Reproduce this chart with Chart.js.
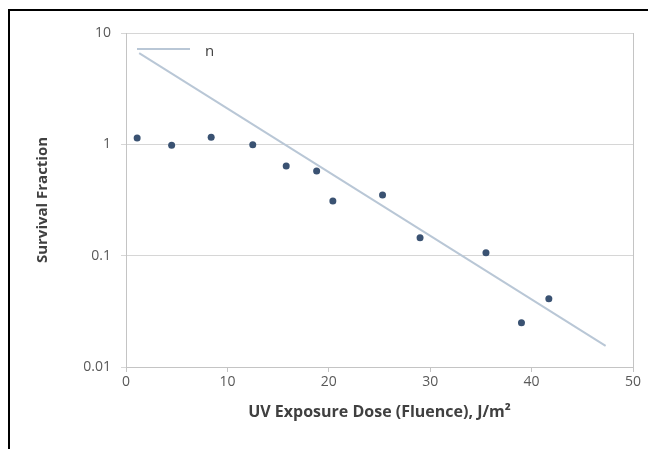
<!DOCTYPE html>
<html>
<head>
<meta charset="utf-8">
<script src="https://cdn.jsdelivr.net/npm/chart.js@4.4.1/dist/chart.umd.min.js"></script>
<style>
  html, body { margin: 0; padding: 0; background: #fff; }
  #frame {
    position: absolute; left: 8px; top: 9px;
    width: 640px; height: 440px;
    border-left: 2px solid #000; border-top: 2px solid #000;
  }
  #chart { display: block; }
</style>
</head>
<body>
<div id="frame">
  <canvas id="chart" width="638" height="438"></canvas>
</div>

<script>
  // measured survival points
  const doseValues = [1.1, 4.5, 8.4, 12.5, 15.8, 18.8, 20.4, 25.3, 29.0, 35.5, 39.0, 41.7];
  const survivalValues = [1.14, 0.98, 1.16, 0.99, 0.64, 0.575, 0.31, 0.35, 0.145, 0.106, 0.025, 0.041];

  // extrapolated line ("n")
  const fitDose = [1.3, 47.3];
  const fitSurvival = [6.6, 0.0155];

  const xTicks = [0, 10, 20, 30, 40, 50];
  const yTicks = [0.01, 0.1, 1, 10];
  const yTickLabels = ['0.01', '0.1', '1', '10'];

  const fontFamily = '"Open Sans", "Liberation Sans", sans-serif';

  // legend drawn inside the plot, top-left
  const insideLegend = {
    id: 'insideLegend',
    afterDraw(chart) {
      const ds = chart.data.datasets[1];
      const { ctx, chartArea } = chart;
      const x = chartArea.left + 11;
      const y = chartArea.top + 16;
      ctx.save();
      ctx.strokeStyle = ds.borderColor;
      ctx.lineWidth = ds.borderWidth;
      ctx.beginPath();
      ctx.moveTo(x, y);
      ctx.lineTo(x + 53, y);
      ctx.stroke();
      ctx.fillStyle = '#404040';
      ctx.font = '15px ' + fontFamily;
      ctx.textBaseline = 'middle';
      ctx.fillText(ds.label, x + 68, y + 3);
      ctx.restore();
    }
  };

  const ctx = document.getElementById('chart').getContext('2d');
  new Chart(ctx, {
    type: 'scatter',
    data: {
      datasets: [
        {
          label: 'Survival',
          data: doseValues.map((d, i) => ({ x: d, y: survivalValues[i] })),
          pointStyle: 'circle',
          pointRadius: 3.5,
          pointHoverRadius: 3.5,
          backgroundColor: '#3a5272',
          borderColor: '#3a5272',
          borderWidth: 0,
          order: 1
        },
        {
          label: 'n',
          type: 'line',
          data: fitDose.map((d, i) => ({ x: d, y: fitSurvival[i] })),
          borderColor: '#b9c7d6',
          borderWidth: 2,
          pointRadius: 0,
          fill: false,
          order: 2
        }
      ]
    },
    options: {
      responsive: false,
      animation: false,
      layout: { padding: { left: 24, right: 15, top: 22, bottom: 25 } },
      plugins: {
        legend: { display: false },
        tooltip: { enabled: false }
      },
      scales: {
        x: {
          type: 'linear',
          min: 0,
          max: 50,
          afterBuildTicks: axis => { axis.ticks = xTicks.map(v => ({ value: v })); },
          afterFit: scale => { scale.height = 57; },
          border: { color: '#c4c4c4', width: 1 },
          grid: {
            color: c => (c.tick && c.tick.value === 50 ? '#c4c4c4' : 'rgba(0,0,0,0)'),
            tickColor: '#c4c4c4',
            tickLength: 5
          },
          ticks: {
            color: '#595959',
            font: { family: fontFamily, size: 14 },
            padding: 2
          },
          title: {
            display: true,
            text: 'UV Exposure Dose (Fluence), J/m²',
            color: '#404040',
            font: { family: fontFamily, size: 16, weight: 'bold' },
            padding: { top: 6, bottom: 2 }
          }
        },
        y: {
          type: 'logarithmic',
          min: 0.01,
          max: 10,
          afterBuildTicks: axis => { axis.ticks = yTicks.map(v => ({ value: v })); },
          afterFit: scale => { scale.width = 92; },
          border: { color: '#c4c4c4', width: 1 },
          grid: {
            color: '#d6d6d6',
            tickColor: '#d6d6d6',
            tickLength: 5
          },
          ticks: {
            color: '#595959',
            font: { family: fontFamily, size: 14 },
            padding: 10,
            callback: (v, i) => yTickLabels[i]
          },
          title: {
            display: true,
            text: 'Survival Fraction',
            color: '#404040',
            font: { family: fontFamily, size: 15, weight: 'bold' },
            padding: { top: 0, bottom: 0 }
          }
        }
      }
    },
    plugins: [insideLegend]
  });
</script>
</body>
</html>
